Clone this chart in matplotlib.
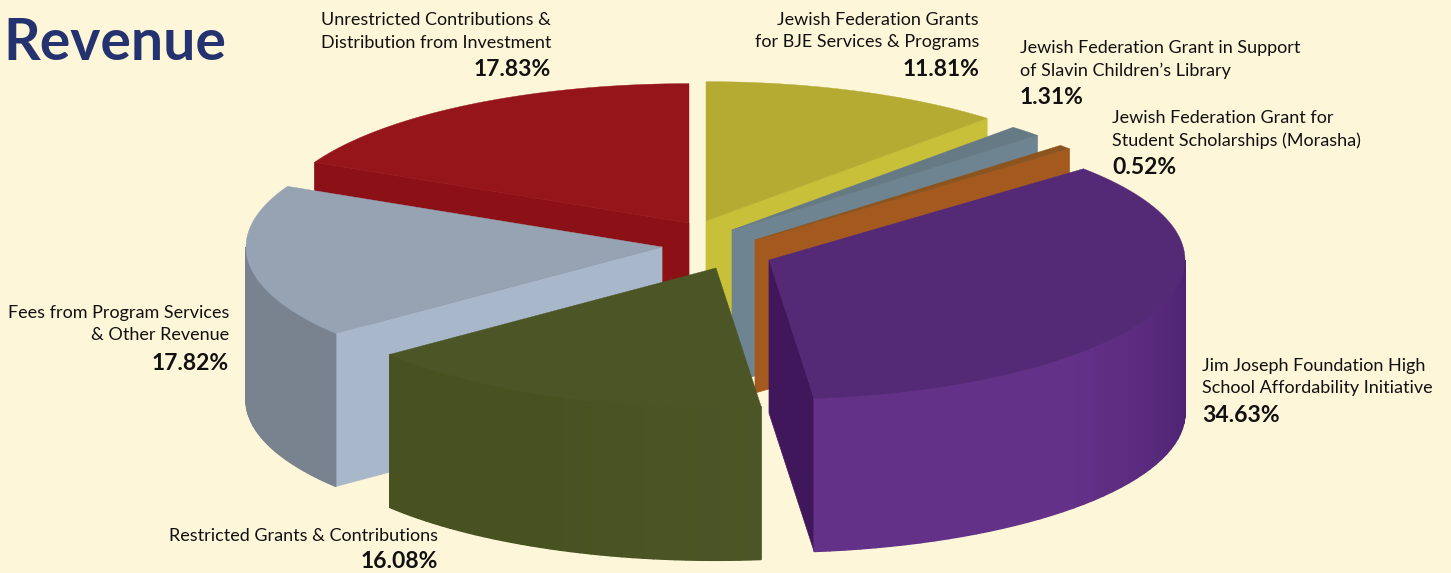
import numpy as np
import matplotlib
matplotlib.use('Agg')
import matplotlib.pyplot as plt
from matplotlib.colors import to_rgb

plt.rcParams['font.family'] = ['Lato', 'Open Sans', 'DejaVu Sans']

# slices, clockwise from 12 o'clock
labels = ['Jewish Federation Grants\nfor BJE Services & Programs',
          'Jewish Federation Grant in Support\nof Slavin Children\u2019s Library',
          'Jewish Federation Grant for\nStudent Scholarships (Morasha)',
          'Jim Joseph Foundation High\nSchool Affordability Initiative',
          'Restricted Grants & Contributions',
          'Fees from Program Services\n& Other Revenue',
          'Unrestricted Contributions &\nDistribution from Investment']
values = [11.81, 1.31, 0.52, 34.63, 16.08, 17.82, 17.83]

# look of each slice
top_col = ['#b5ab33', '#667a86', '#8c5520', '#542a76', '#4b5526', '#95a3b3', '#95151a']
cut_col = ['#c9c03a', '#6f8491', '#a45a1e', '#41175c', '#4b5526', '#a9b7ca', '#8c1116']
wall_a = ['#c9c03a', '#6f8491', '#a45a1e', '#4c2270', '#4b5527', '#78838f', '#8c1116']
wall_b = ['#c9c03a', '#6f8491', '#a45a1e', '#643188', '#485221', '#78838f', '#8c1116']
explode_x = [6, 32, 55, 69, 16, -38, -11]
explode_y = [-19, -10, 0, 20, 28, 7, -17]
draw_order = [6, 0, 1, 2, 5, 3, 4]

label_x = [979, 1020, 1112, 1202, 438, 229, 551]
label_y = [20, 48, 118, 366, 536, 313, 20]
label_ha = ['right', 'left', 'left', 'left', 'right', 'right', 'right']

cx, cy = 700, 240
radius = 416
squash = 0.335
depth = 153
bg = '#fdf6d8'


def rim(theta, ox, oy):
    return ox + radius * np.sin(theta), oy - squash * radius * np.cos(theta)


fig = plt.figure(figsize=(14.51, 5.73), dpi=100, facecolor=bg)
ax = fig.add_axes([0, 0, 1, 1])
ax.set_xlim(0, 1451)
ax.set_ylim(573, 0)
ax.axis('off')

edges = np.radians(np.concatenate([[0], np.cumsum(values)]) * 3.6)

for i in draw_order:
    a, b = edges[i], edges[i + 1]
    ox, oy = cx + explode_x[i], cy + explode_y[i]

    # cut faces, only the ones turned to the viewer
    for t, show in ((a, np.sin(a) < -1e-6), (b, np.sin(b) > 1e-6)):
        if show:
            x, y = rim(t, ox, oy)
            ax.fill([ox, x, x, ox], [oy, y, y + depth, oy + depth], color=cut_col[i], lw=0.5)

    # outer wall, in thin strips for the shading
    lo, hi = max(a, np.pi / 2), min(b, 3 * np.pi / 2)
    if hi > lo:
        steps = np.linspace(lo, hi, 40)
        c0, c1 = np.array(to_rgb(wall_a[i])), np.array(to_rgb(wall_b[i]))
        for j in range(len(steps) - 1):
            t = np.array([steps[j], steps[j + 1]])
            x, y = rim(t, ox, oy)
            f = min(1, j / 20)
            ax.fill([x[0], x[1], x[1], x[0]], [y[0], y[1], y[1] + depth, y[0] + depth],
                    color=c0 + (c1 - c0) * f, lw=1.0)

    # top face
    t = np.linspace(a, b, 80)
    x, y = rim(t, ox, oy)
    ax.fill(np.r_[ox, x], np.r_[oy, y], color=top_col[i], lw=0.3)

for i, lab in enumerate(labels):
    n = lab.count('\n') + 1
    ax.text(label_x[i], label_y[i] - (0 if n == 1 else 8), lab, ha=label_ha[i],
            va='center' if n == 1 else 'top',
            fontsize=13, color='#111111', linespacing=1.5)
    ax.text(label_x[i], label_y[i] + 24.5 * n + 1, '%.2f%%' % values[i], ha=label_ha[i], va='center',
            fontsize=16.5, fontweight='bold', color='#111111')

ax.text(3, 43, 'Revenue', fontsize=41, fontweight='bold', color='#253270', va='center', ha='left')

fig.savefig('out.png', dpi=100, facecolor=bg)
